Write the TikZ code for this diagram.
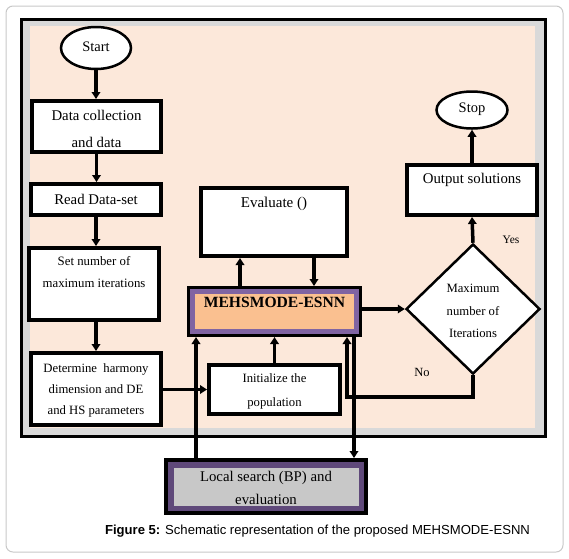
\documentclass[tikz,border=0pt]{standalone}
\usepackage{fontspec}
\setmainfont{Liberation Serif}
\newfontfamily\capfont{Liberation Sans}
\usetikzlibrary{arrows.meta,shapes.geometric,calc}
\definecolor{peach}{HTML}{FCE8DA}
\definecolor{bandgrey}{HTML}{D9D9D9}
\definecolor{cardline}{HTML}{C8C8C8}
\definecolor{mpurple}{HTML}{8064A2}
\definecolor{dpurple}{HTML}{5F497A}
\definecolor{morange}{HTML}{FAC090}
\definecolor{lgrey}{HTML}{C8C8C8}
\tikzset{
  box/.style={draw=black, line width=4pt, fill=white, inner sep=0pt},
  oval/.style={draw=black, ellipse, line width=2.5pt, fill=white, inner sep=0pt},
  txt/.style={align=center, inner sep=0pt},
  arr/.style={line width=3.5pt, -{Triangle[length=7pt,width=8.5pt]}},
}
\begin{document}
\begin{tikzpicture}[x=1pt,y=-1pt]
\useasboundingbox (0,0) rectangle (569,558);
% card
\draw[cardline, line width=1pt, rounded corners=7pt, fill=white] (6,6) rectangle (563,552);
% frame
\fill[bandgrey] (22,20) rectangle (544,435);
\fill[peach] (30,26) rectangle (535,428);
\draw[line width=3pt] (21,19) rectangle (545,436);

% nodes
\node[oval, minimum width=70pt, minimum height=42pt] (start) at (96,48) {};
\node[txt, font=\fontsize{14.5}{16}\selectfont] (startt) at (96,47) {Start};

\node[box, minimum width=129pt, minimum height=51pt] (dc) at (96.5,126.5) {};
\node[txt, font=\fontsize{14.8}{27}\selectfont] (dct) at (96.5,129) {Data collection\\and data};

\node[box, minimum width=130pt, minimum height=31pt] (rd) at (96,199.5) {};
\node[txt, font=\fontsize{14.8}{16}\selectfont] (rdt) at (96,199) {Read Data-set};

\node[box, minimum width=130pt, minimum height=72pt] (sn) at (94,284) {};
\node[txt, font=\fontsize{12.8}{22}\selectfont] (snt) at (94,272) {Set number of\\maximum iterations};

\node[box, minimum width=130pt, minimum height=72pt] (det) at (96,389) {};
\node[txt, font=\fontsize{12.7}{21}\selectfont] (dett) at (96,390) {Determine\ \ harmony\\dimension and DE\\and HS parameters};

\node[box, minimum width=146pt, minimum height=68pt] (ev) at (274,222) {};
\node[txt, font=\fontsize{15}{16}\selectfont] (evt) at (274,204) {Evaluate ()};

\node[draw=black, line width=3pt, fill=morange, inner sep=0pt, minimum width=172pt, minimum height=48pt] (mehs) at (274.5,311.5) {};
\draw[mpurple, line width=5pt] ($(mehs.north west)+(5.5,5.5)$) rectangle ($(mehs.south east)+(-5.5,-5.5)$);
\node[txt, font=\fontsize{15.6}{17}\bfseries\selectfont] (mehst) at (274.5,302) {MEHSMODE-ESNN};

\node[box, minimum width=131pt, minimum height=49pt] (init) at (274.5,389.5) {};
\node[txt, font=\fontsize{12.7}{24}\selectfont] (initt) at (274.5,391) {Initialize the\\population};

\node[draw=black, line width=4pt, fill=lgrey, inner sep=0pt, minimum width=200pt, minimum height=53pt] (local) at (266,486.5) {};
\draw[dpurple, line width=5.5pt] ($(local.north west)+(6.75,6.75)$) rectangle ($(local.south east)+(-6.75,-6.75)$);
\node[txt, font=\fontsize{14.8}{23}\selectfont] (localt) at (266,488) {Local search (BP) and\\evaluation};

\node[box, minimum width=130pt, minimum height=50pt] (out) at (472,190) {};
\node[txt, font=\fontsize{14.8}{16}\selectfont] (outt) at (472,180) {Output solutions};

\node[oval, minimum width=71pt, minimum height=37pt] (stop) at (472,110) {};
\node[txt, font=\fontsize{14.5}{16}\selectfont] (stopt) at (472,109) {Stop};

\node[draw=black, diamond, line width=2.5pt, fill=white, inner sep=0pt, minimum width=134pt, minimum height=130pt] (dia) at (473,309) {};
\node[txt, font=\fontsize{12.7}{22.5}\selectfont] (diat) at (473,311) {Maximum\\number of\\Iterations};

\node[txt, font=\fontsize{11.5}{13}\selectfont] (yes) at (511,240) {Yes};
\node[txt, font=\fontsize{12.5}{14}\selectfont] (no) at (422,372) {No};

\node[txt, font=\capfont\fontsize{13.1}{16}\selectfont] (cap) at (317.5,531) {\textbf{Figure 5:} Schematic representation of the proposed MEHSMODE-ESNN};

% connectors
\draw[arr] (start.south) -- (start.south |- dc.north);
\draw[arr] (dc.south) -- (dc.south |- rd.north);
\draw[arr] (rd.south) -- (rd.south |- sn.north);
\draw[arr] (det.north |- sn.south) -- (det.north);
\draw[arr] (det.east |- init.west) -- (init.west);
\draw[arr] (init.north) -- (init.north |- mehs.south);
\coordinate (mu) at ($(mehs.north)+(-34.5,0)$);
\draw[arr] (mu) -- (mu |- ev.south);
\coordinate (ed) at ($(ev.south)+(40,0)$);
\draw[arr] (ed) -- (ed |- mehs.north);
\draw[arr] (mehs.east |- dia.west) -- (dia.west);
\draw[arr] (dia.north) -- (out.south);
\draw[arr] (out.north) -- (stop.south);
\coordinate (loopc) at (347,397);
\draw[arr] (dia.south) |- (loopc) -- (loopc |- mehs.south);
\coordinate (la) at ($(local.north)+(-70,0)$);
\draw[arr] (la) -- (la |- mehs.south);
\coordinate (mb) at ($(mehs.south)+(79.5,0)$);
\draw[arr] (mb) -- (mb |- local.north);
\end{tikzpicture}
\end{document}
